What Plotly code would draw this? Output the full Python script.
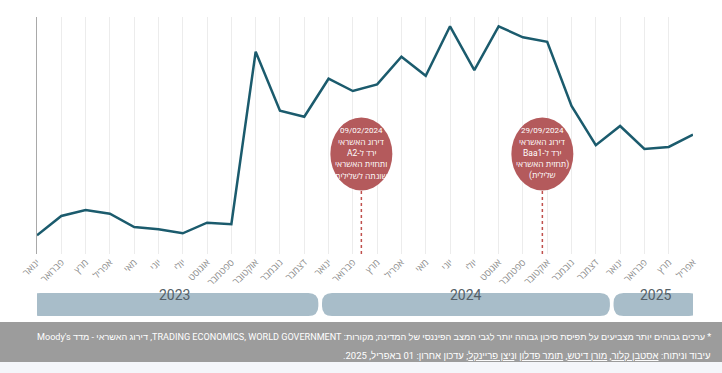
import plotly.graph_objects as go

# ---------------- data ----------------
months_he = ["ינואר", "פברואר", "מרץ", "אפריל", "מאי", "יוני", "יולי",
             "אוגוסט", "ספטמבר", "אוקטובר", "נובמבר", "דצמבר"]
tick_labels = months_he + months_he + months_he[:4]          # Jan 2023 .. Apr 2025
values = [45.0, 53.9, 56.7, 55.0, 48.8, 47.8, 45.9, 50.8, 50.1,
          130.0, 102.7, 99.9,
          117.5, 111.8, 114.9, 127.7, 118.9, 141.8, 121.5, 141.8, 136.7,
          134.6, 104.9, 86.7,
          95.6, 85.0, 85.9, 91.6]
years = ["2023", "2024", "2025"]
year_first_idx = [0, 12, 24]
year_last_idx = [11, 23, 27]
event_pos = [13.35, 20.8]     # 09/02/2024 and 29/09/2024 on the monthly axis
event_text = [
    ["09/02/2024", "דירוג האשראי", "ירד ל-A2", "ותחזית האשראי", "שונתה לשלילית"],
    ["29/09/2024", "דירוג האשראי", "ירד ל-Baa1", "(תחזית האשראי", "שלילית)"],
]
footer_line1 = ("* ערכים גבוהים יותר מצביעים על תפיסת סיכון גבוהה יותר לגבי המצב הפיננסי של המדינה; "
                "מקורות: TRADING ECONOMICS, WORLD GOVERNMENT, דירוג האשראי - מדד Moody's")
authors = ["אסטבן קלור", "מורן דיטש", "תומר פדלון", "ניצן פריינקל"]

# ---------------- layout geometry ----------------
W, H = 722, 373
ML, MR, MT, MB = 37, 29, 17, 119
PW, PH = W - ML - MR, H - MT - MB
PLOT_BOTTOM = H - MB

def py(pix):  # pixel y -> paper y
    return (PLOT_BOTTOM - pix) / PH

def px(pix):  # pixel x -> paper x
    return (pix - ML) / PW

RLE, PDF = "\u202B", "\u202C"
def rtl(s):
    return RLE + s + PDF

FONT = "Roboto, 'Open Sans', 'Liberation Sans', sans-serif"
FOOT_FONT = "Roboto, 'Liberation Sans', sans-serif"
LINE = "#1b5b6d"
RED = "#b45a5c"
BAR = "#a8bdc9"

x = list(range(len(values)))
fig = go.Figure()
fig.add_trace(go.Scatter(x=x, y=values, mode="lines",
                         line=dict(color=LINE, width=2.5), hoverinfo="skip"))

shapes = []
annotations = []

# event circles, dashed stems and texts
for pos, lines in zip(event_pos, event_text):
    shapes.append(dict(type="line", xref="x", yref="paper", x0=pos, x1=pos,
                       y0=0, y1=py(190), line=dict(color="#c0504d", width=1.5, dash="dot"),
                       layer="below"))
    shapes.append(dict(type="circle", xref="x", yref="paper", xsizemode="pixel",
                       ysizemode="pixel", xanchor=pos, yanchor=py(154),
                       x0=-31, x1=31, y0=-36.5, y1=36.5, fillcolor=RED,
                       line=dict(width=0)))
    for k, line_txt in enumerate(lines):
        annotations.append(dict(xref="x", yref="paper", x=pos, y=py(130.5 + 11.3 * k),
                                yanchor="middle", text=rtl(line_txt), showarrow=False,
                                align="center",
                                font=dict(family=FONT, size=8 if k == 0 else 8.5,
                                          color="white")))

# year bars (rounded rectangles)
r_px = 10
rx = r_px / (PW / 27)
y_top, y_bot = py(293), py(316)
ry = r_px / PH
for yr, a, b, i in zip(years, year_first_idx, year_last_idx, range(len(years))):
    x0 = a - 0.27
    x1 = b + (0.58 if i < len(years) - 1 else 0.25)
    path = (f"M{x0+rx},{y_top} L{x1-rx},{y_top} Q{x1},{y_top} {x1},{y_top-ry} "
            f"L{x1},{y_bot+ry} Q{x1},{y_bot} {x1-rx},{y_bot} L{x0+rx},{y_bot} "
            f"Q{x0},{y_bot} {x0},{y_bot+ry} L{x0},{y_top-ry} Q{x0},{y_top} {x0+rx},{y_top} Z")
    shapes.append(dict(type="path", xref="x", yref="paper", path=path,
                       fillcolor=BAR, line=dict(width=0)))
    annotations.append(dict(xref="x", yref="paper", x=(x0 + x1) / 2, y=py(304.5),
                            text=yr, showarrow=False,
                            font=dict(family=FONT, size=14, color="#545f67")))

# footer band
shapes.append(dict(type="rect", xref="paper", yref="paper", x0=px(0), x1=px(W),
                   y0=py(362), y1=py(322), fillcolor="#9c9c9c", line=dict(width=0)))
shapes.append(dict(type="rect", xref="paper", yref="paper", x0=px(0), x1=px(W),
                   y0=py(H), y1=py(362), fillcolor="#f4f6fa", line=dict(width=0)))

u = lambda s: f'<span style="text-decoration:underline">{s}</span>'
footer_line2 = ("עיבוד וניתוח: " + u(authors[0]) + ", " + u(authors[1]) + ", " + u(authors[2])
                + " ו" + u(authors[3]) + "; עדכון אחרון: 01 באפריל, 2025.")
annotations.append(dict(xref="paper", yref="paper", x=px(713), y=py(337), xanchor="right",
                        yanchor="middle", text=rtl(footer_line1), showarrow=False,
                        font=dict(family=FOOT_FONT, size=9.1, color="white")))
annotations.append(dict(xref="paper", yref="paper", x=px(713), y=py(355), xanchor="right",
                        yanchor="middle", text=rtl(footer_line2), showarrow=False,
                        font=dict(family=FOOT_FONT, size=9.5, color="white")))

fig.update_layout(
    width=W, height=H, margin=dict(l=ML, r=MR, t=MT, b=MB),
    paper_bgcolor="white", plot_bgcolor="white", showlegend=False,
    shapes=shapes, annotations=annotations,
    xaxis=dict(range=[0, 27], tickmode="array", tickvals=x, ticktext=tick_labels,
               tickangle=-45, showgrid=True, gridcolor="#ececec", gridwidth=1,
               zeroline=False, showline=False, ticks="",
               tickfont=dict(family=FONT, size=9.5, color="#8c8c8c")),
    yaxis=dict(range=[36.3, 146.1], showgrid=False, zeroline=False, showticklabels=False,
               showline=True, linecolor="#a9a9a9", linewidth=1, ticks=""),
)

fig.write_html("out.html", config={"displayModeBar": False},
               post_script="document.body.style.margin='0';")
